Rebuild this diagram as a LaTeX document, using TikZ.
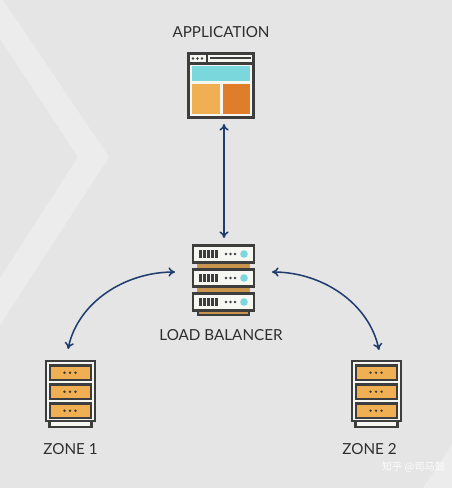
\documentclass[tikz,border=0pt]{standalone}
\usepackage{fontspec}
\setmainfont{Lato}
\newfontfamily\cjk{Noto Sans CJK SC}
\definecolor{bg}{HTML}{E5E5E5}
\definecolor{chev}{HTML}{ECECEC}
\definecolor{dk}{HTML}{3D3D3D}
\definecolor{ink}{HTML}{2E2E2E}
\definecolor{arrowc}{HTML}{1F3D6E}
\definecolor{teal}{HTML}{7AD7DC}
\definecolor{orl}{HTML}{F0AF52}
\definecolor{ord}{HTML}{DF7D2A}
\definecolor{tan}{HTML}{C9954E}
\definecolor{wh}{HTML}{F7F7F2}
\usetikzlibrary{arrows.meta}
\tikzset{
  lbl/.style={font=\fontsize{11.4pt}{13pt}\selectfont,text=ink,inner sep=0pt},
  link/.style={draw=arrowc,line width=1.15pt,{To[length=5pt,width=7pt,open]}-{To[length=5pt,width=7pt,open]}},
  frame/.style={draw=dk,line width=2.2pt},
}
\newcommand{\rackunit}[1]{%
  \draw[frame,fill=wh] (193,#1+0) rectangle (254,#1+17);
  \foreach \bx in {199,203,207,211,215}{\fill[dk] (\bx,#1+4.5) rectangle (\bx+2.6,#1+12.5);}
  \foreach \bx in {226,230.5,235}{\fill[dk] (\bx,#1+8.5) circle (1.3);}
  \fill[teal] (244,#1+8.5) circle (3.8);
}
\newcommand{\zonerack}[1]{%
  \begin{scope}[xshift=#1*0.75pt]
  \draw[frame,fill=wh] (49.5,420) rectangle (91.5,427);
  \draw[frame,fill=wh] (46,361) rectangle (95,421);
  \foreach \sy in {365.5,384.5,403.5}{
    \draw[draw=dk,line width=2pt,fill=orl] (50,\sy) rectangle (91,\sy+14.5);
    \foreach \dx in {64.5,70,75.5}{\fill[dk] (\dx,\sy+7.2) circle (1.3);}
  }
  \end{scope}
}
\begin{document}
\begin{tikzpicture}[x=0.75pt,y=-0.75pt]
\useasboundingbox (0,0) rectangle (452,488);
\fill[bg] (0,0) rectangle (452,488);
% background chevron and corner
\fill[chev] (0,-2) -- (3,0) -- (109,157) -- (0,325) -- (0,278) -- (78,157) -- (0,39) -- cycle;
\fill[chev] (453,443) -- (423,488) -- (453,488) -- cycle;
% application icon
\node[inner sep=0pt,minimum width=50pt,minimum height=49.5pt] (app) at (221,85.5) {};
\draw[frame,fill=wh] (188.5,53.5) rectangle (253.5,117.5);
\draw[frame] (188.5,63.5) -- (253.5,63.5);
\draw[frame] (207,53.5) -- (207,63.5);
\foreach \ax in {193,197.5,202}{\fill[dk] (\ax,58.5) circle (1.3);}
\draw[dk,line width=1.5pt] (210,58.5) -- (251,58.5);
\fill[teal] (192,66.5) rectangle (250,81);
\fill[orl] (192,84) rectangle (219.5,114);
\fill[ord] (222.5,84) rectangle (250,114);
% load balancer icon
\node[inner sep=0pt,minimum width=47pt,minimum height=54pt] (lb) at (223,280) {};
\fill[tan] (197,262) rectangle (250,270);
\fill[tan] (197,286) rectangle (250,294);
\draw[frame,fill=tan] (198,309) rectangle (249,315);
\rackunit{245.5}
\rackunit{269.5}
\rackunit{293.5}
% zones
\node[inner sep=0pt,minimum width=38pt,minimum height=50pt] (z1) at (70.5,394) {};
\node[inner sep=0pt,minimum width=38pt,minimum height=50pt] (z2) at (376.5,394) {};
\zonerack{0}
\zonerack{306}
% labels
\node[lbl] (tapp) at (221,32.5) {APPLICATION};
\node[lbl] (tlb) at (221,335.5) {LOAD BALANCER};
\node[lbl] (tz1) at (70.5,449.5) {ZONE 1};
\node[lbl] (tz2) at (369.5,449.5) {ZONE 2};
\node[text=white,opacity=.85,font=\cjk\fontsize{7.7pt}{9pt}\selectfont,inner sep=0pt] (wm) at (413.5,467) {知乎 @司马懿};
% connectors
\coordinate (lbt) at (224,238);
\coordinate (appb) at (224,124);
\coordinate (lbl) at (175,272);
\coordinate (lbr) at (272,272);
\coordinate (z1t) at (68,349);
\coordinate (z2t) at (379,350);
\draw[link] (appb) -- (lbt);
\draw[link] (lbl) .. controls (125,272) and (78,302) .. (z1t);
\draw[link] (lbr) .. controls (322,272) and (369,303) .. (z2t);
\end{tikzpicture}
\end{document}
